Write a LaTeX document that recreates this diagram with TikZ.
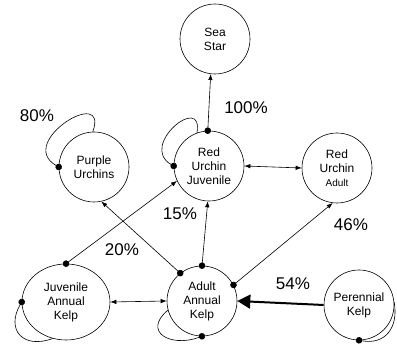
\documentclass[tikz,border=0pt]{standalone}
\usepackage{fontspec}
\setmainfont{Liberation Sans}
\usetikzlibrary{arrows.meta,shapes.geometric}

\begin{document}
\begin{tikzpicture}[x=1pt, y=1pt,
    species/.style={circle, draw, line width=0.6pt, minimum size=70pt, inner sep=0pt, align=center, font=\fontsize{12}{14}\selectfont},
    link/.style={{Circle[length=6.5pt]}-{Latex[length=6pt,width=4.5pt]}, line width=0.6pt, shorten <=-3.2pt},
    twoway/.style={{Latex[length=6pt,width=4.5pt]}-{Latex[length=6pt,width=4.5pt]}, line width=0.6pt},
    selfloop/.style={{Circle[length=6.5pt]}-, line width=0.6pt, shorten <=-3.2pt},
    pct/.style={font=\fontsize{17}{17}\selectfont}
]
\useasboundingbox (0,0) rectangle (397,347);

\node[species] (ss) at (215,308) {Sea\\Star};
\node[species] (ruj) at (209,181) {Red\\Urchin\\Juvenile};
\node[species] (rua) at (337,179) {Red\\Urchin\\{\fontsize{10}{12}\selectfont Adult}};
\node[species] (pu) at (94,180) {Purple\\Urchins};
\node[species, ellipse, minimum width=88pt, minimum height=76pt] (jak) at (66,45) {Juvenile\\Annual\\Kelp};
\node[species] (aak) at (202,46) {Adult\\Annual\\Kelp};
\node[species] (pk) at (359,42) {Perennial\\Kelp};

% percentages
\node[pct] (p80) at (37,231) {80\%};
\node[pct] (p100) at (246,239) {100\%};
\node[pct] (p15) at (180,133) {15\%};
\node[pct] (p20) at (122,97) {20\%};
\node[pct] (p46) at (351,122) {46\%};
\node[pct] (p54) at (293,63) {54\%};

% links
\draw[link] (ruj.92) -- (ss.263);
\draw[twoway] (ruj.east) -- (rua.west);
\draw[link] (jak.north) -- (ruj.205);
\draw[link] (aak.128) -- (pu.282);
\draw[link] (aak.north) -- (ruj.268);
\draw[link] (aak.27) -- (rua.263);
\draw[twoway] (jak.east) -- (aak.west);
\draw[-{Triangle[length=13pt,width=14pt]}, line width=2pt] (pk.west) -- (aak.east);

% self loops
\draw[selfloop] (pu.180) to[out=150, in=70, looseness=2.6] (pu.92);
\draw[selfloop] (ruj.180) to[out=150, in=80, looseness=2.6] (ruj.110);
\draw[selfloop] (jak.west) to[out=240, in=200, looseness=1.7] (jak.250);
\draw[selfloop] (aak.270) to[out=200, in=220, looseness=2] (aak.195);
\draw[selfloop] (pk.270) to[out=-10, in=-80, looseness=1.3] (pk.5);
\end{tikzpicture}
\end{document}
